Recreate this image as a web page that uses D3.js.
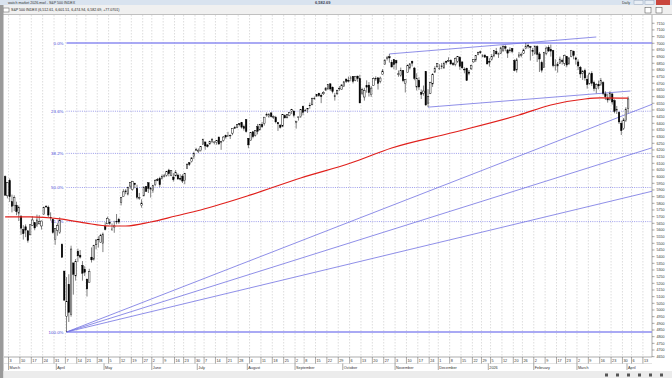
<!doctype html>
<html lang="en">
<head>
<meta charset="utf-8" />
<title>S&amp;P 500 INDEX</title>
<script src="https://cdn.jsdelivr.net/npm/d3@7"></script>
<style>
  body { margin: 0; background: #fff; }
  svg { display: block; font-family: "Liberation Sans", Arial, sans-serif; }
</style>
</head>
<body>
<script>
// daily candles: [day, open, high, low, close]
var feb2025 = [[27,6000,6009,5858,5861],[28,5856,5959,5837,5955]];
var mar2025 = [[3,5969,5986,5810,5849],[4,5812,5865,5732,5778],[5,5782,5860,5742,5842],[6,5786,5812,5711,5738],[7,5726,5783,5667,5770],
  [10,5705,5705,5564,5614],[11,5603,5636,5528,5572],[12,5624,5642,5546,5599],[13,5594,5597,5505,5522],[14,5563,5645,5563,5639],
  [17,5635,5703,5631,5675],[18,5654,5654,5598,5615],[19,5632,5715,5622,5675],[20,5646,5711,5641,5662],[21,5630,5670,5603,5667],
  [24,5718,5775,5718,5768],[25,5775,5787,5765,5777],[26,5771,5783,5695,5712],[27,5695,5732,5670,5693],[28,5679,5685,5572,5581],
  [31,5527,5612,5489,5612]];
var apr2025 = [[1,5597,5651,5557,5633],[2,5581,5695,5571,5671],[3,5492,5500,5390,5396],[4,5292,5292,5069,5074],
  [7,4953,5247,4835,5062],[8,5193,5268,4910,4982],[9,4966,5482,4950,5457],[10,5353,5353,5115,5268],[11,5256,5382,5220,5363],
  [14,5441,5460,5359,5406],[15,5411,5450,5386,5397],[16,5335,5367,5220,5276],[17,5305,5328,5255,5283],
  [21,5232,5233,5101,5158],[22,5207,5309,5207,5288],[23,5396,5469,5356,5376],[24,5381,5489,5371,5485],[25,5489,5528,5455,5525],
  [28,5530,5553,5468,5529],[29,5508,5571,5506,5561],[30,5499,5581,5434,5569]];
var may2025 = [[1,5626,5658,5597,5604],[2,5646,5700,5644,5687],[5,5655,5683,5638,5650],[6,5605,5649,5593,5607],[7,5622,5669,5579,5631],
  [8,5663,5720,5643,5664],[9,5679,5691,5646,5660],[12,5807,5845,5784,5844],[13,5851,5906,5851,5886],[14,5886,5906,5868,5893],
  [15,5869,5925,5859,5917],[16,5929,5959,5908,5958],[19,5902,5968,5895,5964],[20,5950,5954,5913,5941],[21,5912,5939,5830,5845],
  [22,5841,5878,5826,5842],[23,5782,5830,5767,5802],[27,5855,5924,5855,5922],[28,5925,5930,5887,5889],[29,5954,5956,5877,5912],
  [30,5904,5922,5843,5912]];
var jun2025 = [[2,5897,5937,5879,5936],[3,5939,5981,5928,5970],[4,5978,5990,5966,5971],[5,5985,5999,5921,5939],[6,5988,6016,5978,6000],
  [9,6004,6021,5994,6006],[10,6010,6043,6000,6038],[11,6049,6059,6002,6022],[12,6010,6045,6003,6045],[13,5997,6026,5963,5977],
  [16,6005,6050,6005,6033],[17,6012,6024,5975,5983],[18,5987,6018,5971,5981],[20,6004,6018,5952,5967],
  [23,5970,6028,5943,6025],[24,6061,6101,6061,6092],[25,6104,6108,6080,6092],[26,6112,6146,6106,6141],[27,6150,6187,6133,6173],
  [30,6194,6216,6193,6205]];
var jul2025 = [[1,6187,6211,6177,6198],[2,6194,6227,6188,6227],[3,6240,6285,6240,6279],
  [7,6260,6262,6201,6230],[8,6238,6242,6218,6226],[9,6246,6269,6237,6263],[10,6266,6290,6251,6280],[11,6255,6265,6242,6260],
  [14,6255,6272,6239,6269],[15,6296,6302,6243,6244],[16,6256,6269,6201,6264],[17,6270,6304,6262,6297],[18,6308,6315,6285,6297],
  [21,6304,6336,6303,6306],[22,6306,6316,6282,6309],[23,6326,6360,6311,6359],[24,6368,6381,6360,6363],[25,6370,6390,6363,6389],
  [28,6397,6401,6377,6390],[29,6404,6410,6360,6371],[30,6375,6390,6345,6362],[31,6428,6428,6330,6339]];
var aug2025 = [[1,6288,6288,6213,6238],[4,6272,6330,6272,6330],[5,6336,6343,6287,6299],[6,6310,6348,6300,6345],[7,6375,6395,6317,6340],
  [8,6350,6395,6348,6389],[11,6390,6410,6364,6374],[12,6398,6446,6383,6446],[13,6458,6481,6449,6466],[14,6450,6474,6441,6469],
  [15,6478,6481,6444,6450],[18,6446,6459,6433,6449],[19,6445,6456,6399,6411],[20,6405,6410,6343,6396],[21,6386,6393,6361,6370],
  [22,6378,6467,6371,6467],[25,6457,6467,6438,6440],[26,6441,6466,6437,6466],[27,6457,6484,6453,6481],[28,6489,6508,6469,6502],
  [29,6492,6495,6444,6460]];
var sep2025 = [[2,6407,6417,6360,6416],[3,6445,6449,6420,6448],[4,6449,6503,6440,6502],[5,6527,6533,6460,6482],
  [8,6498,6508,6486,6495],[9,6502,6513,6478,6512],[10,6535,6555,6509,6532],[11,6538,6592,6538,6588],[12,6588,6601,6575,6584],
  [15,6603,6616,6600,6615],[16,6626,6627,6598,6607],[17,6610,6624,6551,6600],[18,6621,6641,6612,6631],[19,6649,6671,6643,6664],
  [22,6657,6695,6652,6693],[23,6696,6698,6643,6657],[24,6670,6676,6624,6638],[25,6606,6628,6570,6605],[26,6621,6652,6611,6644],
  [29,6661,6679,6643,6661],[30,6653,6692,6650,6688]];
var oct2025 = [[1,6676,6718,6675,6711],[2,6732,6733,6702,6715],[3,6722,6750,6706,6716],
  [6,6735,6755,6715,6740],[7,6752,6754,6699,6714],[8,6722,6754,6715,6753],[9,6754,6756,6711,6735],[10,6735,6764,6550,6553],
  [13,6626,6666,6610,6654],[14,6597,6666,6570,6644],[15,6682,6722,6630,6671],[16,6686,6709,6600,6630],[17,6614,6679,6598,6664],
  [20,6684,6744,6684,6735],[21,6736,6752,6718,6736],[22,6741,6744,6653,6699],[23,6715,6750,6700,6739],[24,6766,6807,6766,6792],
  [27,6840,6876,6840,6875],[28,6890,6905,6871,6891],[29,6899,6920,6855,6890],[30,6857,6875,6820,6822],[31,6877,6879,6805,6840]];
var nov2025 = [[3,6870,6876,6801,6852],[4,6766,6796,6749,6771],[5,6759,6818,6749,6796],[6,6795,6799,6708,6720],[7,6697,6730,6631,6729],
  [10,6780,6841,6780,6832],[11,6815,6850,6803,6846],[12,6865,6870,6826,6851],[13,6814,6823,6723,6737],[14,6672,6775,6646,6734],
  [17,6722,6745,6650,6672],[18,6631,6654,6582,6617],[19,6625,6683,6607,6642],[20,6789,6790,6529,6538],[21,6551,6656,6521,6603],
  [24,6625,6711,6619,6705],[25,6695,6776,6673,6766],[26,6783,6828,6781,6813],[28,6823,6850,6819,6849]];
var dec2025 = [[1,6812,6843,6800,6813],[2,6830,6852,6806,6829],[3,6815,6862,6809,6850],[4,6866,6867,6840,6857],[5,6866,6895,6860,6870],
  [8,6871,6880,6836,6846],[9,6848,6859,6831,6840],[10,6841,6894,6827,6887],[11,6865,6904,6853,6901],[12,6894,6903,6801,6827],
  [15,6860,6864,6808,6816],[16,6806,6820,6775,6800],[17,6812,6817,6720,6721],[18,6784,6800,6760,6775],[19,6808,6840,6800,6835],
  [22,6860,6880,6855,6878],[23,6875,6911,6860,6910],[24,6915,6937,6910,6932],[26,6936,6945,6920,6930],
  [29,6905,6918,6895,6906],[30,6910,6920,6890,6896],[31,6900,6902,6842,6845]];
var jan2026 = [[2,6865,6888,6825,6858],[5,6880,6920,6870,6902],[6,6905,6945,6895,6944],[7,6940,6965,6915,6921],[8,6915,6930,6890,6921],
  [9,6925,6975,6920,6966],[12,6945,6985,6935,6977],[13,6975,6985,6940,6963],[14,6950,6955,6890,6926],[15,6950,6970,6930,6944],
  [16,6960,6965,6925,6940],[20,6870,6880,6790,6797],[21,6800,6890,6780,6876],[22,6900,6935,6890,6913],[23,6910,6930,6895,6916],
  [26,6925,6960,6920,6950],[27,6960,7002,6955,6979],[28,6985,6998,6960,6978],[29,6975,6980,6870,6969],[30,6945,6965,6905,6939]];
var feb2026 = [[2,6925,6985,6915,6976],[3,6975,6985,6860,6917],[4,6920,6935,6785,6882],[5,6855,6870,6780,6798],[6,6820,6935,6815,6932],
  [9,6925,6975,6910,6964],[10,6970,6985,6935,6942],[11,6955,6990,6900,6941],[12,6945,6950,6820,6833],[13,6835,6880,6795,6836],
  [17,6830,6860,6780,6843],[18,6850,6900,6845,6881],[19,6870,6885,6840,6862],[20,6850,6915,6830,6909],
  [23,6900,6905,6820,6837],[24,6845,6895,6840,6890],[25,6900,6950,6895,6946],[26,6940,6945,6880,6908],[27,6890,6900,6840,6879]];
var mar2026 = [[2,6860,6880,6800,6830],[3,6820,6830,6740,6770],[4,6775,6800,6725,6790],[5,6795,6810,6720,6740],[6,6730,6760,6660,6690],
  [9,6700,6780,6690,6770],[10,6775,6790,6680,6700],[11,6705,6720,6640,6660],[12,6660,6700,6625,6690],[13,6690,6720,6655,6680],
  [16,6690,6740,6680,6720],[17,6705,6715,6610,6625],[18,6620,6640,6575,6600],[19,6590,6620,6555,6575],[20,6580,6640,6570,6625],
  [23,6620,6625,6540,6560],[24,6570,6580,6475,6490],[25,6495,6530,6470,6505],[26,6480,6490,6395,6410],[27,6400,6420,6312,6345],
  [30,6360,6440,6350,6425],[31,6420,6520,6410,6505.62]];
var apr2026 = [[1,6512.61,6601.51,6474.94,6582.69]];

var monthRows = [["2025-02", feb2025], ["2025-03", mar2025], ["2025-04", apr2025], ["2025-05", may2025],
  ["2025-06", jun2025], ["2025-07", jul2025], ["2025-08", aug2025], ["2025-09", sep2025], ["2025-10", oct2025],
  ["2025-11", nov2025], ["2025-12", dec2025], ["2026-01", jan2026], ["2026-02", feb2026], ["2026-03", mar2026],
  ["2026-04", apr2026]];

// 200 day moving average
var ma200 = [["2025-02-27",5698],["2025-03-14",5698],["2025-04-02",5683],["2025-04-17",5653],["2025-05-05",5630],
  ["2025-05-14",5630],["2025-05-30",5660],["2025-06-16",5705],["2025-07-02",5750],["2025-08-04",5863],
  ["2025-09-04",5990],["2025-10-06",6102],["2025-10-30",6215],["2025-12-08",6327],["2026-01-22",6462],
  ["2026-02-11",6537],["2026-03-05",6582],["2026-03-16",6590],["2026-04-01",6588]];

// drawing tools
var fibLow = ["2025-04-07", 4835];
var fibHigh = ["2026-01-27", 7002];
var fibLevels = [0, 23.6, 38.2, 50, 61.8, 100];
var fanLevels = [38.2, 50, 61.8];
var channelLines = [["2025-10-29", 6920, "2026-03-12", 7047], ["2025-11-21", 6521, "2026-04-02", 6642]];

var holidays = ["2025-04-18","2025-05-26","2025-06-19","2025-07-04","2025-09-01","2025-11-27","2025-12-25",
  "2026-01-01","2026-01-19","2026-02-16","2026-04-03"];
var calStart = "2025-02-27", calEnd = "2026-04-16";
var yTicks = d3.range(4650, 7151, 50);

var titleText = "watch market 2026.mwl - S&P 500 INDEX";
var captionText = "S&P 500 INDEX (6,512.61, 6,601.51, 6,474.94, 6,582.69, +77.0701)";
var lastPrice = "6,582.69";

// ---------------------------------------------------------------
var width = 672, height = 378;
var plot = {left: 4, right: 652, top: 15, bottom: 357};

var parse = d3.timeParse("%Y-%m-%d"), fmt = d3.timeFormat("%Y-%m-%d");
var days = d3.timeDay.range(parse(calStart), d3.timeDay.offset(parse(calEnd), 1))
  .filter(function(d) { return d.getDay() > 0 && d.getDay() < 6 && holidays.indexOf(fmt(d)) < 0; })
  .map(fmt);

var candles = [];
monthRows.forEach(function(m) {
  m[1].forEach(function(r) {
    candles.push({date: m[0] + "-" + (r[0] < 10 ? "0" : "") + r[0], o: r[1], h: r[2], l: r[3], c: r[4]});
  });
});

var x = d3.scaleBand().domain(days).range([plot.left, plot.right]);
var cx = function(d) { return x(d) + x.bandwidth() / 2; };
var y = d3.scaleLinear().domain([fibLow[1], fibHigh[1]]).range([332, 43]);

var svg = d3.select("body").append("svg")
    .attr("width", width)
    .attr("height", height);

svg.append("rect").attr("width", width).attr("height", height).attr("fill", "#fff");

// window chrome
svg.append("rect").attr("x", 0).attr("y", 0).attr("width", width).attr("height", 5).attr("fill", "#d9e3ef");
svg.append("text").attr("x", 8).attr("y", 3.6).attr("font-size", 3.6).attr("fill", "#333").text(titleText);
svg.append("text").attr("x", 315).attr("y", 3.8).attr("font-size", 4).attr("font-weight", "bold").attr("fill", "#445").text(lastPrice);
svg.append("text").attr("x", 622).attr("y", 3.8).attr("font-size", 3.6).attr("fill", "#333").text("Daily");
[[634, "#e8eef5"], [645, "#e8eef5"]].forEach(function(b) {
  svg.append("rect").attr("x", b[0]).attr("y", 0.5).attr("width", 9).attr("height", 4)
    .attr("fill", b[1]).attr("stroke", "#8a9bb0").attr("stroke-width", 0.4);
});
svg.append("rect").attr("x", 656).attr("y", 0).attr("width", 14).attr("height", 5).attr("fill", "#c9463d");

svg.append("rect").attr("x", 0).attr("y", 5).attr("width", width).attr("height", 10).attr("fill", "#f0f0f0");
svg.append("line").attr("x1", 0).attr("x2", width).attr("y1", 14.5).attr("y2", 14.5).attr("stroke", "#a0a0a0").attr("stroke-width", 0.6);
svg.append("rect").attr("x", 3).attr("y", 8).attr("width", 6).attr("height", 4)
  .attr("fill", "#fff").attr("stroke", "#555").attr("stroke-width", 0.5);
svg.append("text").attr("x", 11).attr("y", 11.3).attr("font-size", 3.6).attr("fill", "#222").text(captionText);
[645, 656].forEach(function(bx) {
  svg.append("rect").attr("x", bx).attr("y", 7.5).attr("width", 6).attr("height", 5.5)
    .attr("fill", "#fff").attr("stroke", "#444").attr("stroke-width", 0.5);
});

// left frame and bottom strip
svg.append("rect").attr("x", 0).attr("y", 5).attr("width", 3.5).attr("height", height - 5).attr("fill", "#9a9a9a");
svg.append("rect").attr("x", 3.5).attr("y", 371).attr("width", width).attr("height", 7).attr("fill", "#ececec");
d3.range(6).forEach(function(i) {
  svg.append("rect").attr("x", 605 + i * 11).attr("y", 373.5).attr("width", 3).attr("height", 3).attr("fill", "#555");
});

// week gridlines and axis boxes
var weekStarts = days.filter(function(d, i) {
  return i > 0 && +d3.timeMonday.floor(parse(d)) !== +d3.timeMonday.floor(parse(days[i - 1]));
});
var monthStarts = days.filter(function(d, i) {
  return i > 0 && d.slice(0, 7) !== days[i - 1].slice(0, 7);
});

svg.append("g").selectAll("line").data(weekStarts).enter().append("line")
    .attr("x1", function(d) { return x(d); })
    .attr("x2", function(d) { return x(d); })
    .attr("y1", plot.top)
    .attr("y2", plot.bottom)
    .attr("stroke", "#bababa")
    .attr("stroke-width", 0.5)
    .attr("stroke-dasharray", "1.5,1.5");

svg.append("line").attr("x1", plot.left).attr("x2", plot.right).attr("y1", plot.bottom).attr("y2", plot.bottom)
  .attr("stroke", "#777").attr("stroke-width", 0.6);
svg.append("line").attr("x1", plot.left).attr("x2", plot.right).attr("y1", 363.5).attr("y2", 363.5)
  .attr("stroke", "#bbb").attr("stroke-width", 0.4);

var dayAxis = svg.append("g").selectAll("g").data(weekStarts).enter().append("g");
dayAxis.append("line")
    .attr("x1", function(d) { return x(d); })
    .attr("x2", function(d) { return x(d); })
    .attr("y1", plot.bottom).attr("y2", 363.5)
    .attr("stroke", "#555").attr("stroke-width", 0.5);
dayAxis.append("text")
    .attr("x", function(d) { return x(d) + 1; })
    .attr("y", 362)
    .attr("font-size", 3.8)
    .attr("fill", "#333")
    .text(function(d) { return +d.slice(8); });

var monthAxis = svg.append("g").selectAll("g").data(monthStarts).enter().append("g");
monthAxis.append("line")
    .attr("x1", function(d) { return x(d); })
    .attr("x2", function(d) { return x(d); })
    .attr("y1", 363.5).attr("y2", 370)
    .attr("stroke", "#555").attr("stroke-width", 0.5);
monthAxis.append("text")
    .attr("x", function(d) { return x(d) + 1; })
    .attr("y", 369)
    .attr("font-size", 3.8)
    .attr("fill", "#333")
    .text(function(d) {
      var dt = parse(d);
      return dt.getMonth() === 0 ? d3.timeFormat("%Y")(dt) : d3.timeFormat("%B")(dt);
    });

// price axis on the right
svg.append("line").attr("x1", plot.right).attr("x2", plot.right).attr("y1", plot.top).attr("y2", plot.bottom)
  .attr("stroke", "#777").attr("stroke-width", 0.6);
var yAxis = svg.append("g").selectAll("g").data(yTicks).enter().append("g")
    .attr("transform", function(d) { return "translate(0," + y(d) + ")"; });
yAxis.append("line").attr("x1", plot.right).attr("x2", plot.right + 2.5).attr("stroke", "#555").attr("stroke-width", 0.5);
yAxis.append("text").attr("x", plot.right + 4.5).attr("dy", 1.3)
    .attr("font-size", 3.6).attr("fill", "#333")
    .text(function(d) { return d; });

// plot clip
svg.append("clipPath").attr("id", "clip").append("rect")
    .attr("x", plot.left).attr("y", plot.top).attr("width", plot.right - plot.left).attr("height", plot.bottom - plot.top);
var chart = svg.append("g").attr("clip-path", "url(#clip)");

// fibonacci retracement
var fibColor = "#7272e2";
var fibRange = fibHigh[1] - fibLow[1];
var fibG = chart.append("g");
fibLevels.forEach(function(p) {
  var v = fibHigh[1] - fibRange * p / 100;
  var solid = (p === 0 || p === 100);
  fibG.append("line")
      .attr("x1", cx(fibLow[0])).attr("x2", plot.right)
      .attr("y1", y(v)).attr("y2", y(v))
      .attr("stroke", solid ? "#8c8cf0" : fibColor)
      .attr("stroke-width", solid ? 1.3 : 0.7)
      .attr("stroke-dasharray", solid ? null : "1,1.2");
  fibG.append("text")
      .attr("x", cx(fibLow[0]) - 3).attr("y", y(v)).attr("dy", 1.5)
      .attr("text-anchor", "end")
      .attr("font-size", 4.4)
      .attr("fill", "#4a4ad8")
      .text(p.toFixed(1) + "%");
});

// fibonacci fan from the low through the levels at the high's date
fanLevels.forEach(function(p) {
  var v = fibHigh[1] - fibRange * p / 100;
  var x0 = cx(fibLow[0]), y0 = y(fibLow[1]);
  var slope = (y(v) - y0) / (cx(fibHigh[0]) - x0);
  fibG.append("line")
      .attr("x1", x0).attr("y1", y0)
      .attr("x2", plot.right).attr("y2", y0 + slope * (plot.right - x0))
      .attr("stroke", fibColor).attr("stroke-width", 0.8);
});

// channel lines
chart.append("g").selectAll("line").data(channelLines).enter().append("line")
    .attr("x1", function(d) { return cx(d[0]); })
    .attr("y1", function(d) { return y(d[1]); })
    .attr("x2", function(d) { return cx(d[2]); })
    .attr("y2", function(d) { return y(d[3]); })
    .attr("stroke", fibColor).attr("stroke-width", 0.8);

// candles
var cg = chart.append("g").selectAll("g").data(candles).enter().append("g");
cg.append("line")
    .attr("x1", function(d) { return cx(d.date); })
    .attr("x2", function(d) { return cx(d.date); })
    .attr("y1", function(d) { return y(d.h); })
    .attr("y2", function(d) { return y(d.l); })
    .attr("stroke", "#000").attr("stroke-width", 0.5);
cg.append("rect")
    .attr("x", function(d) { return cx(d.date) - 0.75; })
    .attr("width", 1.5)
    .attr("y", function(d) { return y(Math.max(d.o, d.c)); })
    .attr("height", function(d) { return Math.max(0.5, Math.abs(y(d.o) - y(d.c))); })
    .attr("fill", function(d) { return d.c >= d.o ? "#fff" : "#000"; })
    .attr("stroke", "#000")
    .attr("stroke-width", 0.45);

// moving average
var maLine = d3.line()
    .x(function(d) { return cx(d[0]); })
    .y(function(d) { return y(d[1]); })
    .curve(d3.curveMonotoneX);
chart.append("path")
    .datum(ma200)
    .attr("d", maLine)
    .attr("fill", "none")
    .attr("stroke", "#e0201c")
    .attr("stroke-width", 1.2);
</script>
</body>
</html>
